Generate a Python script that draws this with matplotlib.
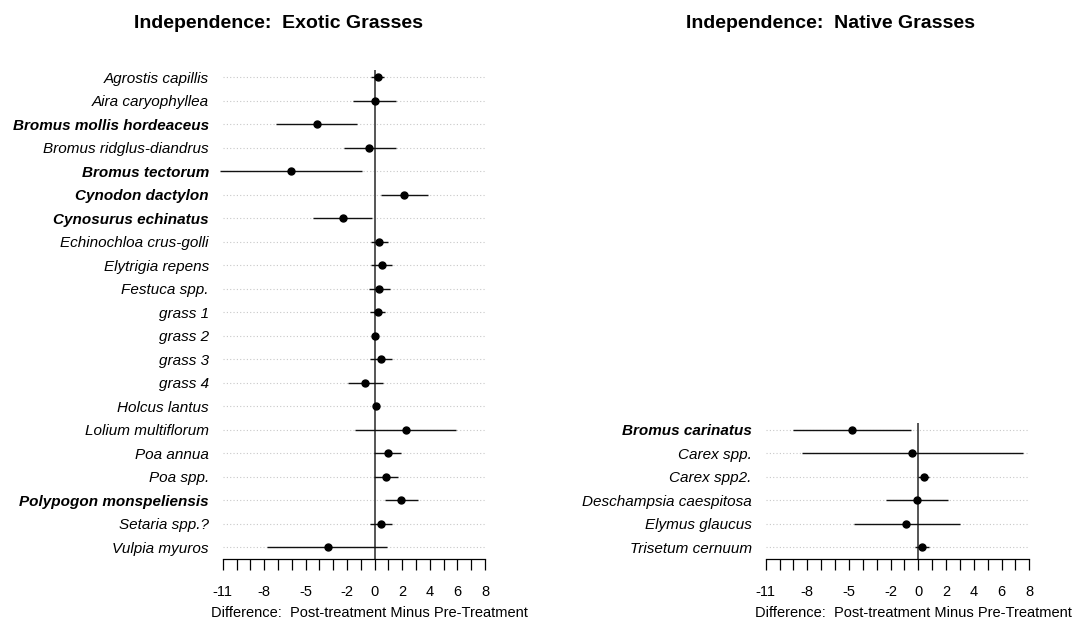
import matplotlib
matplotlib.use("Agg")
from matplotlib import pyplot as plt
import numpy as np

plt.rcParams['font.family'] = ['Liberation Sans', 'DejaVu Sans']

# exotic grasses: mean difference with lower / upper interval
exotic_names = ["Agrostis capillis", "Aira caryophyllea", "Bromus mollis hordeaceus",
                "Bromus ridglus-diandrus", "Bromus tectorum", "Cynodon dactylon",
                "Cynosurus echinatus", "Echinochloa crus-golli", "Elytrigia repens",
                "Festuca spp.", "grass 1", "grass 2", "grass 3", "grass 4",
                "Holcus lantus", "Lolium multiflorum", "Poa annua", "Poa spp.",
                "Polypogon monspeliensis", "Setaria spp.?", "Vulpia myuros"]
exotic_mean = [0.24, 0.0, -4.18, -0.37, -6.07, 2.14, -2.32, 0.33, 0.55, 0.33, 0.24,
               0.0, 0.48, -0.68, 0.09, 2.24, 0.94, 0.84, 1.90, 0.48, -3.41]
exotic_lo = [-0.25, -1.53, -7.13, -2.20, -11.2, 0.48, -4.47, -0.25, -0.25, -0.37, -0.32,
             -0.05, -0.32, -1.96, -0.02, -1.41, -0.08, -0.08, 0.72, -0.32, -7.76]
exotic_hi = [0.65, 1.57, -1.29, 1.57, -0.92, 3.86, -0.20, 0.96, 1.28, 1.13, 0.72,
             0.05, 1.28, 0.60, 0.20, 5.89, 1.93, 1.71, 3.13, 1.28, 0.91]
exotic_bold = ["Bromus mollis hordeaceus", "Bromus tectorum", "Cynodon dactylon",
               "Cynosurus echinatus", "Polypogon monspeliensis"]

# native grasses
native_names = ["Bromus carinatus", "Carex spp.", "Carex spp2.",
                "Deschampsia caespitosa", "Elymus glaucus", "Trisetum cernuum"]
native_mean = [-4.76, -0.43, 0.41, -0.12, -0.91, 0.24]
native_lo = [-9.01, -8.41, 0.0, -2.36, -4.64, -0.26]
native_hi = [-0.50, 7.57, 0.79, 2.12, 3.00, 0.79]
native_bold = ["Bromus carinatus"]

tick_labels = [-11, -8, -5, -2, 0, 2, 4, 6, 8]
n_rows = len(exotic_names)


def forest(ax, names, mean, lo, hi, bold):
    n = len(names)
    y = np.arange(n)[::-1]
    ax.hlines(y, -11, 8, colors='#c8c8c8', linestyles=(0, (1, 2)), linewidth=0.8, zorder=1)
    ax.vlines(0, -0.5, n - 1 + 0.3, colors='#555555', linewidth=1.4, zorder=2)
    ax.hlines(y, lo, hi, colors='#111111', linewidth=1.0, zorder=3, clip_on=False)
    ax.plot(mean, y, 'o', color='black', markersize=5, zorder=4)

    ax.set_xlim(-11, 8)
    ax.set_ylim(-0.5, n_rows - 0.5)
    ax.set_yticks(y)
    ax.set_yticklabels(names)
    for lab, name in zip(ax.get_yticklabels(), names):
        lab.set_style('italic')
        lab.set_fontsize(11)
        if name in bold:
            lab.set_fontweight('bold')
    ax.tick_params(axis='y', length=0, pad=10)

    ax.set_xticks(range(-11, 9))
    ax.set_xticklabels([str(v) if v in tick_labels else '' for v in range(-11, 9)],
                       fontsize=10.5)
    ax.tick_params(axis='x', length=8, width=0.9, pad=11)
    for s in ['top', 'right', 'left']:
        ax.spines[s].set_visible(False)
    ax.spines['bottom'].set_linewidth(0.9)
    ax.set_xlabel("Difference:  Post-treatment Minus Pre-Treatment", fontsize=10.5)
    ax.xaxis.label.set_va('center')
    ax.xaxis.set_label_coords(0.561, -0.109)


fig = plt.figure(figsize=(10.76, 6.25), dpi=100)
ax1 = fig.add_axes([0.207, 0.1056, 0.2438, 0.79])
ax2 = fig.add_axes([0.7116, 0.1056, 0.245, 0.79])

forest(ax1, exotic_names, exotic_mean, exotic_lo, exotic_hi, exotic_bold)
forest(ax2, native_names, native_mean, native_lo, native_hi, native_bold)

fig.text(0.2584, 0.9616, "Independence:  Exotic Grasses", ha='center', va='center',
         fontsize=14, fontweight='bold')
fig.text(0.7714, 0.9616, "Independence:  Native Grasses", ha='center', va='center',
         fontsize=14, fontweight='bold')

fig.savefig("out.png", dpi=100)
